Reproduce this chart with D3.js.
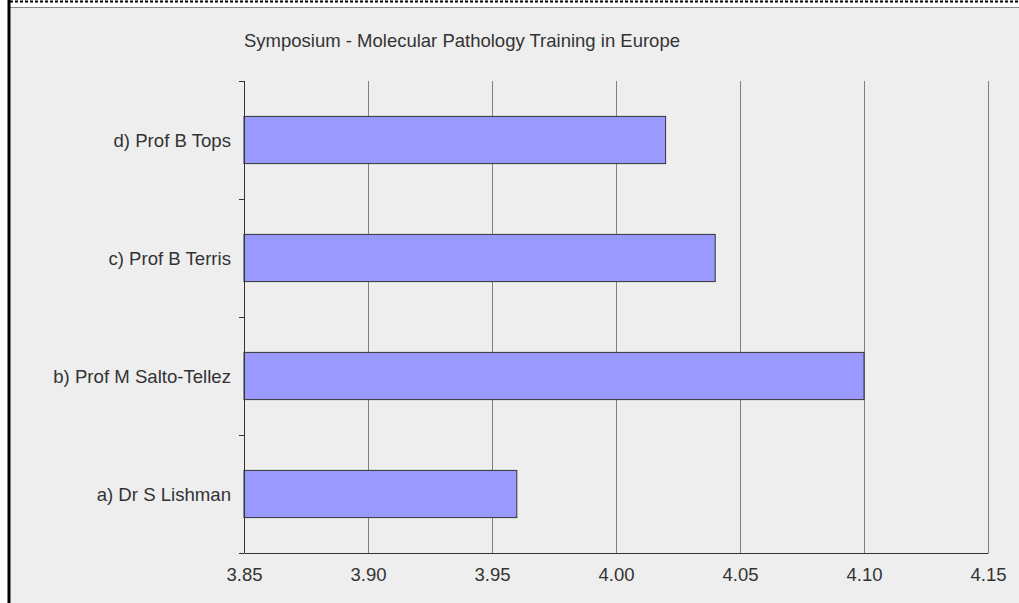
<!DOCTYPE html>
<html>
<head>
<meta charset="utf-8">
<script src="https://cdn.jsdelivr.net/npm/d3@7"></script>
<style>
  body { margin: 0; background: #fff; }
  text { font-family: "Liberation Sans", Arial, sans-serif; fill: #333; }
</style>
</head>
<body>
<div id="chart"></div>
<script>
const speakers = ["a) Dr S Lishman", "b) Prof M Salto-Tellez", "c) Prof B Terris", "d) Prof B Tops"];
const scores = [3.96, 4.10, 4.04, 4.02];
const xTicks = [3.85, 3.90, 3.95, 4.00, 4.05, 4.10, 4.15];
const title = "Symposium - Molecular Pathology Training in Europe";

const width = 1019;
const height = 603;
const margin = ({top: 81, right: 31, bottom: 50, left: 244});

const svg = d3.select("#chart")
    .append("svg")
    .attr("width", width)
    .attr("height", height);

// chart area background + frame bits
svg.append("rect")
    .attr("x", 10).attr("y", 7)
    .attr("width", width - 10).attr("height", height - 7)
    .attr("fill", "#eeeeee");
svg.append("line")
    .attr("x1", 10).attr("x2", width).attr("y1", 7.5).attr("y2", 7.5)
    .attr("stroke", "#888").attr("stroke-width", 1);
svg.append("line")
    .attr("x1", 10).attr("x2", width).attr("y1", 1.5).attr("y2", 1.5)
    .attr("stroke", "#000").attr("stroke-width", 2)
    .attr("stroke-dasharray", "3,2");
svg.append("line")
    .attr("x1", 9).attr("x2", 9).attr("y1", 0).attr("y2", height)
    .attr("stroke", "#000").attr("stroke-width", 3);

const x = d3.scaleLinear()
    .domain([3.85, 4.15])
    .range([margin.left, width - margin.right]);

const y = d3.scaleBand()
    .domain(speakers)
    .range([height - margin.bottom, margin.top]);

// vertical gridlines
svg.append("g")
    .attr("transform", `translate(0,${margin.top})`)
    .call(d3.axisBottom(x)
        .tickValues(xTicks.slice(1))
        .tickSize(height - margin.bottom - margin.top)
        .tickFormat(""))
    .call(g => g.select(".domain").remove())
    .call(g => g.selectAll("line").attr("stroke", "#808080"));

// bars
svg.append("g")
    .selectAll("rect")
    .data(speakers)
    .join("rect")
    .attr("x", x(3.85))
    .attr("y", d => y(d) + y.bandwidth() * 0.3)
    .attr("width", (d, i) => x(scores[i]) - x(3.85))
    .attr("height", y.bandwidth() * 0.4)
    .attr("fill", "#9999ff")
    .attr("stroke", "#333")
    .attr("stroke-width", 1);

// y axis with ticks between categories
const yBounds = speakers.map(d => y(d)).concat([height - margin.bottom]);
const yAxis = svg.append("g");
yAxis.append("line")
    .attr("x1", margin.left + 0.5).attr("x2", margin.left + 0.5)
    .attr("y1", margin.top).attr("y2", height - margin.bottom)
    .attr("stroke", "#333");
yAxis.selectAll(".tick")
    .data(yBounds)
    .join("line")
    .attr("x1", margin.left - 5).attr("x2", margin.left)
    .attr("y1", d => Math.round(d) + 0.5).attr("y2", d => Math.round(d) + 0.5)
    .attr("stroke", "#333");
yAxis.selectAll("text")
    .data(speakers)
    .join("text")
    .attr("x", margin.left - 13)
    .attr("y", d => y(d) + y.bandwidth() / 2)
    .attr("dy", "0.35em")
    .attr("text-anchor", "end")
    .attr("font-size", "18.6px")
    .text(d => d);

// x axis
svg.append("g")
    .attr("transform", `translate(0,${height - margin.bottom})`)
    .call(d3.axisBottom(x)
        .tickValues(xTicks)
        .tickSize(0)
        .tickPadding(15)
        .tickFormat(d3.format(".2f")))
    .call(g => g.select(".domain").attr("stroke", "#333"))
    .call(g => g.selectAll("text")
        .attr("font-size", "18.5px")
        .attr("font-family", "Liberation Sans, Arial, sans-serif")
        .attr("fill", "#333"));

svg.append("text")
    .attr("x", margin.left)
    .attr("y", 47)
    .attr("font-size", "18.5px")
    .text(title);
</script>
</body>
</html>
